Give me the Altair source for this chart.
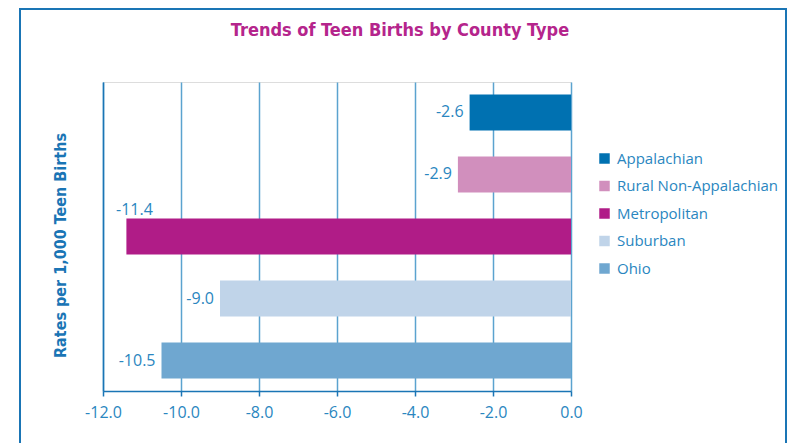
import altair as alt
import pandas as pd

categories = ["Appalachian", "Rural Non-Appalachian", "Metropolitan", "Suburban", "Ohio"]
values = [-2.6, -2.9, -11.4, -9.0, -10.5]
colors = ["#0071b1", "#d18fbd", "#b01c87", "#c0d4e9", "#6fa7d0"]
x_ticks = [-12, -10, -8, -6, -4, -2, 0]
label_above = [False, False, True, False, False]
chart_title = "Trends of Teen Births by County Type"
y_title = "Rates per 1,000 Teen Births"

df = pd.DataFrame({"County": categories, "Value": values, "Above": label_above})

BLUE = "#1a75b5"
TXT = "#2a86c0"
FONT = "Open Sans"
NARROW = "'Liberation Sans Narrow', 'DejaVu Sans Condensed', 'Roboto Condensed', sans-serif"

yenc = alt.Y("County:N", sort=categories,
             scale=alt.Scale(paddingInner=0.42, paddingOuter=0.2),
             axis=alt.Axis(labels=False, ticks=False, grid=False, domain=True,
                           domainColor=BLUE, domainWidth=1.5,
                           title=y_title,
                           titleFont=NARROW, titleFontSize=16, titleFontWeight="bold",
                           titleColor=BLUE, titleAngle=-90, titleX=-43, titleY=163,
                           titleAlign="center", titleBaseline="middle"))

xenc = alt.X("Value:Q", scale=alt.Scale(domain=[-12, 0], nice=False),
             axis=alt.Axis(values=x_ticks, title=None,
                           labelExpr="(datum.value < 0 ? '-' : '') + format(abs(datum.value), '.1f')",
                           labelFlush=False,
                           grid=True, gridColor="#5ba3cf", gridWidth=1.5,
                           domainColor=BLUE, domainWidth=1.5,
                           tickColor=BLUE, tickSize=5, tickWidth=1.5,
                           labelColor=TXT, labelFont=FONT, labelFontSize=16,
                           labelPadding=8))

base = alt.Chart(df).transform_calculate(
    Label="(datum.Value < 0 ? '-' : '') + format(abs(datum.Value), '.1f')"
)

bars = base.mark_bar().encode(
    x=xenc, y=yenc,
    color=alt.Color("County:N", sort=categories,
                    scale=alt.Scale(domain=categories, range=colors),
                    legend=alt.Legend(title=None, orient="none", legendX=494, legendY=69,
                                      symbolType="square", symbolSize=110,
                                      symbolStrokeWidth=0, symbolOpacity=1,
                                      labelColor=TXT, labelFont=FONT, labelFontSize=15,
                                      labelLimit=300,
                                      labelOffset=5, rowPadding=11.5, padding=0)),
)

side_labels = base.transform_filter("!datum.Above").mark_text(
    align="right", baseline="middle", dx=-6, font=FONT, fontSize=16, color=TXT
).encode(x="Value:Q", y=alt.Y("County:N", sort=categories), text="Label:N")

top_labels = base.transform_filter("datum.Above").mark_text(
    align="center", baseline="middle", dx=8, dy=-27, font=FONT, fontSize=16, color=TXT
).encode(x="Value:Q", y=alt.Y("County:N", sort=categories), text="Label:N")

one = alt.Data(values=[{}])

border = alt.Chart(one).mark_rect(
    fill=None, stroke=BLUE, strokeWidth=2, clip=False
).encode(x=alt.value(-83), x2=alt.value(683), y=alt.value(-73), y2=alt.value(420))

title = alt.Chart(one).mark_text(
    text=chart_title, font=NARROW, fontSize=18, fontWeight="bold", color="#b5258c",
    align="center", baseline="middle", clip=False
).encode(x=alt.value(297), y=alt.value(-51))

chart = alt.layer(border, title, bars, side_labels, top_labels).properties(
    width=468, height=309,
    autosize=alt.AutoSizeParams(type="none"),
    padding={"left": 95, "top": 74, "right": 220, "bottom": 60},
).configure_view(stroke=BLUE, strokeWidth=1).configure(background="white")

chart.save("out.html", embed_options={"renderer": "svg", "actions": False})
